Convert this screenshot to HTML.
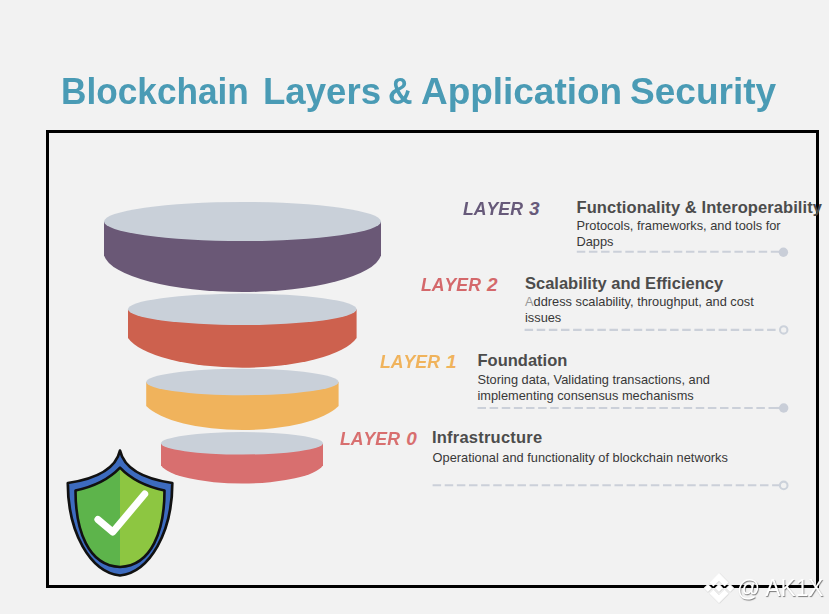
<!DOCTYPE html>
<html><head><meta charset="utf-8">
<style>
html,body{margin:0;padding:0;}
body{width:829px;height:614px;background:#f2f2f2;position:relative;overflow:hidden;font-family:"Liberation Sans",sans-serif;}
.t{position:absolute;white-space:nowrap;line-height:1;}
.ttl{top:73.8px;font-size:36px;font-weight:bold;color:#4a9bb5;transform-origin:0 0;}
.lay{font-size:19px;font-weight:bold;font-style:italic;font-kerning:none;}
.lw{display:inline-block;transform:scaleX(0.93);transform-origin:0 0;}
.hd{font-size:16.5px;font-weight:bold;color:#4c4c4c;}
.bd{font-size:12.8px;color:#383838;line-height:16.3px;}
#frame{position:absolute;left:46px;top:130px;width:767px;height:452px;border:3px solid #000;}
svg{position:absolute;left:0;top:0;}
</style></head><body>
<div class="t ttl" style="left:60.5px;transform:scaleX(0.978)">Blockchain</div><div class="t ttl" style="left:262.7px;transform:scaleX(1.017)">Layers</div><div class="t ttl" style="left:388.4px;transform:scaleX(0.943)">&amp;</div><div class="t ttl" style="left:420.6px;transform:scaleX(1.026)">Application</div><div class="t ttl" style="left:629.9px;transform:scaleX(1.029)">Security</div>
<div id="frame"></div>
<svg width="829" height="614" viewBox="0 0 829 614">
  <path d="M104 221.5 L104 255.6 A139.2 40.5 0 0 0 381 255.6 L381 221.5 Z" fill="#6a5876"/>
  <ellipse cx="242.5" cy="221.5" rx="138.5" ry="19.5" fill="#c9d0d9"/>
  <path d="M128 309.3 L128 337.9 A117.3 38.4 0 0 0 356.6 337.9 L356.6 309.3 Z" fill="#cd614e"/>
  <ellipse cx="242.3" cy="309.3" rx="114.3" ry="15.7" fill="#c9d0d9"/>
  <path d="M146.2 382 L146.2 406 A102 36 0 0 0 338.6 406 L338.6 382 Z" fill="#f0b35c"/>
  <ellipse cx="242.4" cy="382" rx="96.2" ry="13.2" fill="#c9d0d9"/>
  <path d="M161 443.3 L161 465.2 A82.2 22.15 0 0 0 323 465.2 L323 443.3 Z" fill="#d86f6f"/>
  <ellipse cx="242" cy="443.3" rx="81" ry="11.2" fill="#c9d0d9"/>
  <!-- dashed lines -->
  <g stroke="#cbd0d9" stroke-width="2.1" fill="none" stroke-dasharray="8.5 3.625">
    <line x1="576.8" y1="251.8" x2="779.30" y2="251.8"/>
    <line x1="524.6" y1="329.9" x2="775.60" y2="329.9"/>
    <line x1="477.5" y1="408" x2="777.10" y2="408"/>
    <line x1="432.6" y1="485.3" x2="780.20" y2="485.3"/>
  </g>
  <g stroke="#cbd0d9" stroke-width="2.1">
    <line x1="776" y1="408" x2="780" y2="408"/>
  </g>
  <circle cx="783.4" cy="252.2" r="4.7" fill="#c9ced8"/>
  <circle cx="783.7" cy="329.9" r="3.7" fill="none" stroke="#ccd2db" stroke-width="2.1"/>
  <circle cx="783.7" cy="408" r="4.7" fill="#c9ced8"/>
  <circle cx="783.7" cy="485.4" r="3.8" fill="none" stroke="#ccd2db" stroke-width="2.1"/>
  <!-- shield -->
  <path d="M120 450.5 Q114.1 476.2 67.8 483 C67.8 532 90 572 120 575.5 C150 572 172.3 532 172.3 483 Q125.9 476.2 120 450.5 Z" fill="#3d6bbf" stroke="#111" stroke-width="2.7" stroke-linejoin="round"/>
  <path d="M120 467.6 Q104.2 484.3 75.5 490.5 C75.5 530 88 566 120 567 C152 566 164.5 530 164.5 490.5 Q135.8 484.3 120 467.6 Z" fill="#5db44b"/>
  <path d="M120 467.6 Q135.8 484.3 164.5 490.5 C164.5 530 152 566 120 567 Z" fill="#8dc641"/>
  <path d="M120 467.6 Q104.2 484.3 75.5 490.5 C75.5 530 88 566 120 567 C152 566 164.5 530 164.5 490.5 Q135.8 484.3 120 467.6 Z" fill="none" stroke="#111" stroke-width="2.6" stroke-linejoin="round"/>
  <path d="M97.9 519.5 L112.8 532 L144.7 494" fill="none" stroke="#fff" stroke-width="7" stroke-linecap="round" stroke-linejoin="round"/>
</svg>
<div class="t lay" style="left:463.0px;top:198.6px;color:#675a7a"><span class="lw">LAYER</span></div><div class="t lay" style="left:528.9px;top:198.6px;color:#675a7a">3</div>
<div class="t hd" style="left:576.5px;top:198.5px;letter-spacing:0.08px">Functionality &amp; Interoperability</div>
<div class="t bd" style="left:576.5px;top:217.9px">Protocols, frameworks, and tools for<br>Dapps</div>

<div class="t lay" style="left:421.3px;top:274.5px;color:#d4686b"><span class="lw">LAYER</span></div><div class="t lay" style="left:487px;top:274.5px;color:#d4686b">2</div>
<div class="t hd" style="left:525px;top:274.6px">Scalability and Efficiency</div>
<div class="t bd" style="left:525px;top:294.1px"><span style="color:#9a9a9a">A</span>ddress scalability, throughput, and cost<br>issues</div>

<div class="t lay" style="left:380.3px;top:351.5px;color:#f0b35c"><span class="lw">LAYER</span></div><div class="t lay" style="left:446.0px;top:351.5px;color:#f0b35c">1</div>
<div class="t hd" style="left:477.5px;top:351.6px">Foundation</div>
<div class="t bd" style="left:477.5px;top:372.1px">Storing data, Validating transactions, and<br>implementing consensus mechanisms</div>

<div class="t lay" style="left:340.3px;top:428.8px;color:#d86f6f"><span class="lw">LAYER</span></div><div class="t lay" style="left:406.2px;top:428.8px;color:#d86f6f">0</div>
<div class="t hd" style="left:432px;top:429.4px;letter-spacing:0.22px">Infrastructure</div>
<div class="t bd" style="left:432.6px;top:450.0px">Operational and functionality of blockchain networks</div>
<svg width="829" height="614" viewBox="0 0 829 614" style="position:absolute;left:0;top:0">
  <defs><filter id="sh" x="-20%" y="-20%" width="140%" height="140%"><feDropShadow dx="0.8" dy="0.8" stdDeviation="0.8" flood-color="#000" flood-opacity="0.45"/></filter></defs>
  <g transform="translate(704.6 573.6) scale(0.227)" fill="#fff" stroke="#fff" stroke-width="5" stroke-linejoin="miter" filter="url(#sh)">
    <path d="M38.73 53.2l24.59-24.58 24.6 24.6 14.3-14.31L63.32 0 24.43 38.9l14.3 14.3z M0 63.31l14.3-14.31 14.31 14.31-14.31 14.3z M38.73 73.41l24.59 24.59 24.6-24.6 14.31 14.29-.01.01-38.9 38.91-38.9-38.88-.02-.02 14.33-14.3z M98 63.31l14.3-14.31 14.31 14.3-14.31 14.32z M77.83 63.3l-14.51-14.52-10.73 10.73-1.24 1.23-2.54 2.54-.02.02.02.02 14.51 14.5 14.51-14.52.01-.01-.01-.01z"/>
  </g>
</svg>
<div class="t" id="wm" style="left:736.5px;top:575.5px;font-size:24px;color:#fff;text-shadow:0.8px 0.8px 1px rgba(0,0,0,0.5);transform:scaleX(0.95);transform-origin:0 0">@ AK1X</div>
</body></html>
